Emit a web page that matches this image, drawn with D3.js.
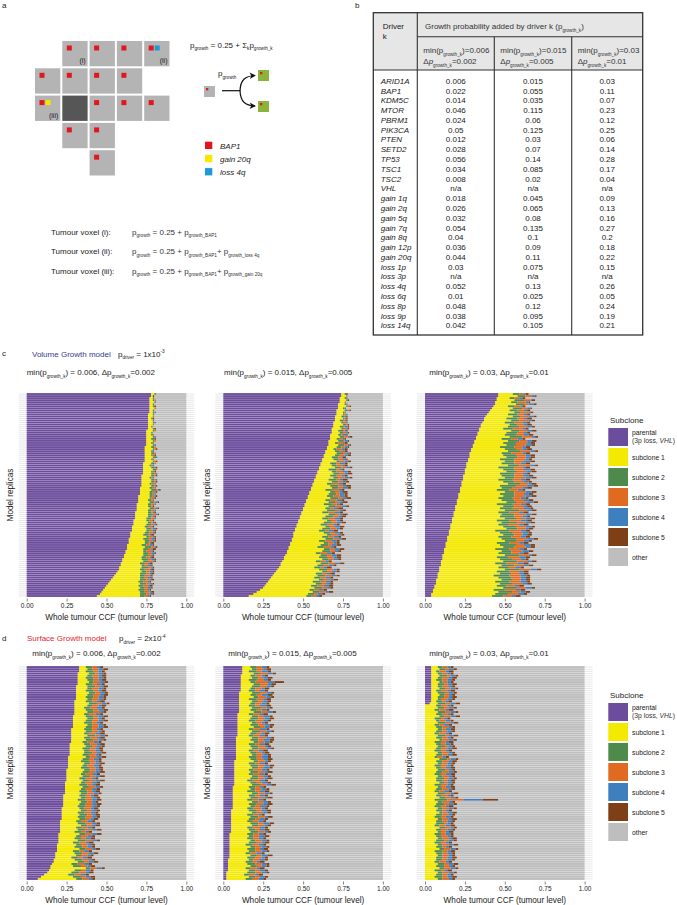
<!DOCTYPE html>
<html><head><meta charset="utf-8">
<script src="https://cdn.jsdelivr.net/npm/d3@7"></script>
<style>
body{margin:0;background:#fff}
svg{display:block}
text{font-family:"Liberation Sans",Arial,Helvetica,sans-serif;fill:#1a1a1a}
</style>
</head><body>
<svg id="fig" width="677" height="905"></svg>
<script>
// ---------------- DATA ----------------
const drivers = ["ARID1A","BAP1","KDM5C","MTOR","PBRM1","PIK3CA","PTEN","SETD2","TP53","TSC1","TSC2","VHL","gain 1q","gain 2q","gain 5q","gain 7q","gain 8q","gain 12p","gain 20q","loss 1p","loss 3p","loss 4q","loss 6q","loss 8p","loss 9p","loss 14q"];
const pMin006 = ["0.006","0.022","0.014","0.046","0.024","0.05","0.012","0.028","0.056","0.034","0.008","n/a","0.018","0.026","0.032","0.054","0.04","0.036","0.044","0.03","n/a","0.052","0.01","0.048","0.038","0.042"];
const pMin015 = ["0.015","0.055","0.035","0.115","0.06","0.125","0.03","0.07","0.14","0.085","0.02","n/a","0.045","0.065","0.08","0.135","0.1","0.09","0.11","0.075","n/a","0.13","0.025","0.12","0.095","0.105"];
const pMin03 = ["0.03","0.11","0.07","0.23","0.12","0.25","0.06","0.14","0.28","0.17","0.04","n/a","0.09","0.13","0.16","0.27","0.2","0.18","0.22","0.15","n/a","0.26","0.05","0.24","0.19","0.21"];

const subcloneKeys = ["par","s1","s2","s3","s4","s5","oth"];
const subcloneLabels = ["parental","subclone 1","subclone 2","subclone 3","subclone 4","subclone 5","other"];
const subcloneColors = ["#6c4c9c","#f4e900","#4e8a4c","#e06a20","#3e7fbd","#7f3f16","#bebebe"];
const ccfTicks = [0,0.25,0.5,0.75,1];

// Volume growth, min 0.006 (values in % CCF, replicas top->bottom)
const c1Par = [78,78,77,77,77,77,77,77,77,77,76,76,76,76,76,76,76,76,75,75,75,75,75,75,75,75,74,74,74,74,74,74,74,74,73,73,73,73,73,73,72,72,72,72,72,72,71,71,71,71,70,70,70,70,69,69,69,69,68,68,68,68,67,67,67,66,66,66,65,65,65,64,64,64,63,63,63,62,62,61,61,60,60,59,59,58,58,57,56,55,54,53,52,51,50,49,48,47,46,44];
const c1S1 = [2,1,2,2,3,2,2,3,2,2,3,3,2,3,3,3,2,3,4,3,3,4,3,4,3,4,4,5,4,4,4,5,4,5,5,4,5,6,5,5,6,5,6,6,5,6,6,7,6,6,7,7,6,7,7,7,8,7,8,8,8,7,8,9,8,8,9,9,9,8,10,9,10,10,9,11,10,11,11,12,11,12,13,12,13,14,13,15,15,16,17,18,18,20,20,22,22,24,25,27];
const c1S2 = [1,0,1,1,0,1,1,0,1,1,1,0,1,1,1,0,1,1,1,1,1,1,2,1,1,1,2,1,1,2,1,2,1,1,2,1,2,2,1,2,2,1,2,2,1,2,2,3,2,2,2,1,2,3,2,2,3,2,2,3,2,3,2,2,3,2,3,2,3,3,2,3,3,2,3,4,3,2,3,3,3,4,3,3,2,4,3,3,4,3,3,4,3,4,3,3,4,3,4,3];
const c1S3 = [0,0,0,1,0,0,0,1,0,0,0,1,0,0,0,1,0,0,1,0,1,0,0,1,1,0,1,1,0,1,1,0,1,1,1,1,0,1,1,1,1,1,1,1,2,1,1,1,2,1,1,2,1,1,2,1,1,2,1,2,1,2,2,1,2,2,1,2,2,1,2,2,2,1,2,2,2,3,2,2,2,2,3,2,2,2,3,2,2,3,2,2,3,2,3,2,2,3,2,2];
const c1S4 = [0,0,0,0,1,0,0,0,0,1,0,0,0,0,1,0,0,0,0,0,0,1,0,0,0,1,0,0,1,0,0,1,0,0,0,1,1,0,0,1,0,1,1,0,1,0,1,1,0,1,1,0,1,1,1,0,1,1,1,1,1,1,0,1,1,1,2,1,1,1,1,2,1,1,2,1,1,1,2,1,1,2,1,1,2,1,1,2,1,1,2,1,1,2,1,2,1,1,2,1];
const c1S5 = [0,1,0,0,0,0,1,0,0,0,0,0,1,0,0,0,0,1,0,0,0,0,1,0,0,0,0,1,0,0,1,0,0,1,0,0,1,0,1,0,1,0,0,1,0,1,0,1,1,0,1,1,0,1,0,1,1,0,1,1,1,0,1,1,1,1,1,1,1,2,1,1,1,2,1,1,2,1,1,1,2,1,1,2,1,1,2,1,2,1,1,2,1,1,2,1,1,2,1,1];

// Volume growth, min 0.015
const c2Par = [74,74,73,73,73,72,72,72,71,71,71,70,70,70,69,69,69,68,68,68,67,67,67,66,66,66,65,65,64,64,63,63,62,62,61,61,60,60,59,59,58,58,57,57,56,56,55,55,54,54,53,53,52,52,51,51,50,50,49,49,48,48,47,47,46,46,45,45,44,44,44,43,43,42,42,41,41,40,40,39,38,38,37,36,36,35,34,33,32,31,30,29,28,27,26,25,23,21,19,16];
const c2S1 = [2,3,3,4,3,4,5,3,5,4,4,4,5,3,5,6,4,6,4,5,5,6,4,6,4,6,6,4,6,7,7,5,7,9,6,7,10,6,9,10,9,11,9,11,9,11,13,9,13,12,12,14,12,14,12,15,14,15,13,17,16,14,18,16,15,18,17,15,19,21,18,21,17,21,19,18,22,22,18,22,22,24,21,25,23,22,26,29,26,28,27,31,28,31,29,32,31,35,34,36];
const c2S2 = [1,0,1,1,0,1,1,1,2,1,1,2,1,2,1,2,2,1,3,2,2,3,2,3,2,4,3,2,3,4,3,4,3,2,4,3,4,5,3,4,4,3,5,4,3,5,4,4,3,5,4,5,3,4,5,4,3,5,4,4,5,4,3,5,4,3,5,4,4,3,4,5,4,3,5,4,4,5,3,4,5,4,3,5,4,4,5,3,4,5,4,3,5,4,4,5,3,4,4,3];
const c2S3 = [0,1,0,0,1,0,1,0,1,1,1,0,1,1,2,1,1,2,1,2,1,2,2,1,3,2,2,3,2,2,3,2,3,3,2,4,3,2,4,3,3,4,2,3,4,3,3,4,3,2,4,3,4,3,3,4,2,3,4,3,3,4,3,3,4,3,4,2,3,4,3,3,4,3,2,4,3,3,4,3,4,3,3,4,3,2,4,3,3,4,3,4,3,3,4,3,3,4,2,3];
const c2S4 = [0,0,1,0,0,1,0,1,0,0,1,1,0,1,1,0,2,1,1,1,2,1,1,2,1,1,2,2,1,2,2,1,2,2,3,1,2,2,3,2,2,3,2,2,3,2,3,2,2,3,3,2,3,2,2,3,3,2,3,2,2,3,2,3,2,3,2,3,3,2,3,2,3,2,3,2,3,2,3,3,2,3,2,3,3,2,2,3,2,3,3,2,3,2,3,2,3,2,3,2];
const c2S5 = [1,0,0,1,0,0,1,0,1,0,0,1,1,1,0,1,1,1,1,1,1,2,1,1,2,1,1,2,2,1,2,2,1,2,2,2,2,1,2,3,2,2,3,2,2,3,2,2,3,2,2,3,2,3,2,2,3,2,2,3,3,2,2,3,2,3,2,3,2,2,2,3,2,2,3,2,3,2,2,3,3,2,2,3,2,3,2,2,3,2,2,3,2,2,3,2,2,3,2,2];

// Volume growth, min 0.03
const c3Par = [46,46,45,45,44,44,43,42,41,40,39,38,37,37,36,35,35,34,34,33,33,32,32,31,31,30,30,29,29,28,28,28,27,27,26,26,26,25,25,25,24,24,24,23,23,23,22,22,22,21,21,21,20,20,20,19,19,19,18,18,18,17,17,17,16,16,16,15,15,15,14,14,14,13,13,13,12,12,12,11,11,11,10,10,10,9,9,9,8,8,8,7,7,7,6,6,5,5,4,4];
const c3S1 = [9,12,8,11,10,13,9,13,12,16,13,17,14,17,14,18,17,15,20,18,17,21,16,21,18,21,17,21,23,20,21,23,20,23,22,26,20,24,26,22,24,26,22,26,29,24,26,23,28,26,28,25,28,31,25,30,28,31,28,30,29,33,28,31,30,33,35,29,32,34,32,34,36,32,34,36,32,36,34,39,34,36,39,34,38,37,41,36,39,35,38,41,37,40,39,43,38,41,40,38];
const c3S2 = [4,5,3,6,4,5,4,6,5,4,6,5,7,5,6,5,7,6,5,7,7,8,6,7,8,6,9,7,8,6,8,7,9,6,8,7,10,7,6,9,8,6,9,7,8,10,7,8,6,9,7,9,8,6,10,7,8,9,7,8,9,7,8,10,6,8,7,9,8,7,8,9,7,8,10,7,9,6,8,9,7,8,9,7,8,6,9,8,7,10,8,7,9,8,6,8,7,9,8,7];
const c3S3 = [3,4,3,4,5,3,4,3,4,5,4,5,4,6,5,4,5,6,5,4,5,6,4,5,7,6,5,4,6,7,6,5,7,6,4,7,5,6,7,5,6,7,5,6,5,7,6,5,7,6,7,5,6,7,5,6,7,5,6,7,5,6,7,5,7,6,5,7,6,5,6,7,5,6,5,7,6,7,5,6,7,5,6,7,6,5,7,6,5,7,6,5,7,6,5,6,7,5,6,5];
const c3S4 = [1,2,2,1,2,3,1,2,2,1,2,3,2,2,3,2,3,2,3,2,3,2,3,3,2,4,2,3,3,2,3,3,2,4,3,3,2,4,3,3,3,4,3,3,2,4,3,3,4,3,4,3,3,4,3,2,4,3,3,4,3,3,4,3,3,4,2,3,4,3,3,4,3,3,4,3,3,4,3,2,4,3,3,4,3,3,4,3,3,4,3,3,4,3,3,4,3,3,4,3];
const c3S5 = [2,1,2,2,1,2,2,1,2,2,2,2,3,2,2,3,2,2,3,2,3,2,2,3,3,2,3,3,2,3,3,3,2,3,3,2,3,3,3,2,3,3,3,2,3,3,3,2,3,3,3,2,3,3,3,3,2,3,3,3,2,3,3,3,3,2,3,3,2,3,3,3,2,3,3,3,2,3,3,3,3,2,3,3,3,2,3,3,3,2,3,3,2,3,3,2,3,3,2,3];

// Surface growth, min 0.006
const d1Par = [33,33,33,32,32,32,32,32,32,31,31,31,31,31,31,31,30,30,30,30,30,30,30,29,29,29,29,29,29,28,28,28,28,28,28,28,27,27,27,27,27,27,26,26,26,26,26,26,25,25,25,25,25,25,24,24,24,24,24,24,23,23,23,23,23,23,22,22,22,22,22,22,21,21,21,21,21,21,20,20,20,20,20,19,19,19,19,18,18,18,17,17,16,15,15,14,13,11,9,7];
const d1S1 = [4,5,4,7,6,5,6,7,5,7,7,6,8,7,6,7,7,9,8,6,7,8,6,8,9,8,7,9,8,8,9,8,10,8,9,7,9,10,8,9,9,8,11,9,8,10,9,8,11,10,9,10,8,10,10,9,11,10,9,10,10,11,9,11,10,9,11,12,10,11,10,11,10,11,13,10,11,9,13,11,10,12,9,12,11,14,10,12,13,10,13,15,12,14,22,16,15,15,20,24];
const d1S2 = [4,3,5,4,3,5,4,3,4,5,3,5,4,4,5,3,4,5,3,4,5,4,3,5,4,4,5,3,4,5,4,3,5,4,5,3,4,4,5,3,5,4,3,4,5,4,3,5,4,4,3,5,4,4,3,5,4,3,5,4,4,3,5,4,4,5,3,4,4,5,5,4,3,5,4,3,5,4,4,3,4,5,4,3,5,4,4,5,3,4,5,4,4,5,3,4,5,4,5,4];
const d1S3 = [3,4,3,2,4,3,3,4,3,3,4,3,3,4,3,4,3,3,4,4,3,4,4,3,3,4,3,4,4,3,4,4,3,4,3,4,4,3,3,4,3,4,4,3,4,3,4,4,3,4,4,3,4,4,4,3,4,4,3,4,3,4,4,3,4,4,4,3,4,3,4,3,4,4,3,4,4,3,4,4,3,4,4,4,3,4,3,4,4,3,4,3,4,4,4,3,4,4,3,4];
const d1S4 = [2,3,2,3,2,3,2,3,3,2,3,2,3,2,3,3,2,3,2,3,3,2,3,3,2,3,2,3,3,2,2,3,3,2,3,3,2,3,2,3,3,2,3,3,2,3,3,2,3,3,3,3,2,3,3,2,3,3,2,3,2,3,3,2,3,3,2,3,3,2,3,2,3,3,2,3,3,2,3,3,3,3,2,3,3,2,3,3,2,3,2,3,3,2,3,3,2,3,3,2];
const d1S5 = [2,3,2,2,3,2,3,2,2,3,2,3,2,3,2,2,3,2,3,2,3,2,2,3,2,3,2,2,3,2,2,3,2,3,2,2,3,2,3,2,3,2,3,2,2,3,2,3,2,3,2,3,2,3,2,3,2,2,3,2,3,2,3,2,3,2,3,2,2,3,2,3,2,2,3,2,3,2,3,2,3,2,3,2,2,3,2,3,2,3,2,3,2,3,2,2,3,2,3,2];

// Surface growth, min 0.015
const d2Par = [12,12,12,12,11,11,11,11,11,11,11,11,10,10,10,10,10,10,10,10,10,10,9,9,9,9,9,9,9,9,9,9,9,8,8,8,8,8,8,8,8,8,8,8,7,7,7,7,7,7,7,7,7,7,7,7,6,6,6,6,6,6,6,6,6,6,6,5,5,5,5,5,5,5,5,5,5,5,4,4,4,4,4,4,4,4,4,4,4,4,3,3,3,3,3,3,2,2,2,2];
const d2S1 = [5,6,4,7,6,7,5,6,8,7,6,5,8,7,9,6,8,7,6,8,7,9,7,9,8,7,9,8,10,7,9,8,7,10,9,11,8,9,10,8,9,10,8,9,12,9,10,11,9,10,9,11,10,8,10,11,10,11,9,12,10,11,9,12,10,11,9,11,13,10,12,11,10,12,13,10,11,12,11,12,11,13,12,10,13,11,12,10,13,11,13,11,12,14,11,13,13,11,14,12];
const d2S2 = [4,3,5,4,3,4,5,3,4,5,3,4,5,4,3,5,4,3,4,5,4,5,3,4,5,4,3,5,4,3,5,4,3,4,5,3,4,5,4,3,4,3,5,4,3,4,5,4,3,5,3,4,5,3,4,5,4,3,5,4,4,5,3,4,5,3,4,5,3,4,5,4,3,5,4,3,4,5,4,3,4,3,5,4,3,5,4,3,4,5,3,4,5,4,3,4,5,3,4,4];
const d2S3 = [3,4,3,5,4,3,4,8,5,4,4,3,4,3,5,4,3,4,3,4,3,4,4,3,4,5,3,4,3,4,4,3,4,5,3,4,3,4,5,3,3,4,3,4,4,3,4,3,5,4,4,3,4,5,3,4,3,4,3,4,3,4,4,3,4,3,5,3,4,3,4,3,4,3,4,5,3,4,3,4,3,4,3,4,4,3,4,4,3,4,4,3,4,3,4,3,4,4,3,4];
const d2S4 = [3,2,4,3,2,3,3,4,2,3,2,3,3,4,3,2,3,3,4,2,3,3,2,4,3,3,2,3,3,4,3,2,3,3,4,3,3,2,3,3,2,3,4,3,2,3,3,4,3,2,3,3,2,3,4,3,2,3,3,3,3,2,3,3,3,4,2,3,3,2,2,3,3,4,2,3,3,2,3,3,3,3,2,3,3,2,3,3,4,2,3,2,3,3,2,3,3,2,3,3];
const d2S5 = [2,3,2,2,2,3,2,6,3,2,3,2,2,3,2,3,2,2,3,2,2,2,3,2,3,2,2,3,2,2,2,3,2,2,3,2,3,2,2,3,3,2,2,3,2,2,3,2,2,3,2,2,3,2,2,3,2,2,3,2,2,3,2,2,3,2,2,3,2,2,3,2,2,3,2,2,3,2,2,3,2,2,3,2,2,3,2,2,3,2,2,3,2,2,3,2,2,3,2,2];

// Surface growth, min 0.03
const d3Par = [4,4,4,4,4,4,4,4,4,4,4,4,4,4,4,4,4,3,0,0,0,0,0,0,0,0,0,0,0,0,0,0,0,0,0,0,0,0,0,0,0,0,0,0,0,0,0,0,0,0,0,0,0,0,0,0,0,0,0,0,0,0,0,0,0,0,0,0,0,0,0,0,0,0,0,0,0,0,0,0,0,0,0,0,0,0,0,0,0,0,0,0,0,0,0,0,0,0,0,0];
const d3S1 = [4,5,3,4,5,4,3,5,4,4,5,3,4,5,4,4,3,5,7,8,6,8,7,9,6,7,8,6,7,8,7,6,8,7,9,6,7,8,7,6,8,7,6,9,7,8,6,7,8,7,6,8,7,7,9,6,8,7,6,8,7,9,6,8,7,6,8,7,9,7,6,8,7,7,6,9,7,8,6,7,8,7,6,8,7,9,6,7,8,7,7,6,8,7,9,6,8,7,6,8];
const d3S2 = [3,4,2,3,5,3,4,2,4,3,4,3,5,3,4,2,4,5,3,4,3,5,4,3,4,2,5,3,4,3,4,3,5,4,2,4,3,5,3,4,3,4,2,5,4,3,4,3,5,4,4,3,5,4,3,4,2,4,3,5,3,4,8,3,5,4,3,4,2,4,4,3,4,5,3,4,3,2,4,3,3,5,4,3,4,3,5,4,3,4,4,3,4,5,3,4,3,4,5,3];
const d3S3 = [3,2,4,3,2,4,3,3,2,4,3,4,2,3,3,4,2,3,4,3,4,3,3,4,2,4,3,3,4,2,3,4,2,3,4,3,3,2,4,3,4,3,3,2,4,3,4,3,2,4,3,4,3,3,2,4,3,4,3,3,4,3,10,4,3,3,4,2,3,4,3,4,3,2,4,3,4,3,3,4,4,3,3,4,2,4,3,3,4,3,3,4,3,3,4,2,4,3,3,4];
const d3S4 = [2,3,2,2,3,2,3,2,3,2,3,2,3,2,2,3,2,3,2,3,2,3,2,3,2,3,2,3,2,3,3,2,3,2,3,2,3,2,3,2,2,3,2,3,2,3,2,3,2,3,3,2,3,2,3,2,3,2,3,2,2,3,12,2,3,2,3,2,3,2,3,2,3,2,3,2,3,2,3,2,2,3,2,3,2,3,2,3,2,3,3,2,3,2,3,2,3,2,3,2];
const d3S5 = [2,2,3,2,2,3,2,2,3,2,2,3,2,2,3,2,2,3,2,2,3,2,2,3,2,2,3,2,2,3,2,2,3,2,2,3,2,2,3,2,2,3,2,2,3,2,2,3,2,2,3,2,2,3,2,2,3,2,2,3,2,2,10,2,2,3,2,2,3,2,2,3,2,2,3,2,2,3,2,2,3,2,2,3,2,2,3,2,2,3,2,2,3,2,2,3,2,2,3,2];

// ---------------- DRAWING ----------------
const svg = d3.select("#fig");
const FONT = '"Liberation Sans",Arial,Helvetica,sans-serif';

function rich(g, x, y, parts, fs, opts = {}) {
  const t = g.append("text").attr("x", x).attr("y", y).attr("font-size", fs)
    .attr("xml:space", "preserve");
  if (opts.anchor) t.attr("text-anchor", opts.anchor);
  if (opts.fill) t.attr("fill", opts.fill);
  if (opts.rotate) t.attr("transform", opts.rotate);
  let cur = 0;
  parts.forEach(p => {
    const [txt, kind] = typeof p === "string" ? [p, ""] : p;
    const ts = t.append("tspan").text(txt);
    let target = 0, size = fs;
    if (kind.includes("s")) { target = fs * 0.32; size = fs * 0.58; }
    if (kind.includes("u")) { target = -fs * 0.42; size = fs * 0.58; }
    if (kind.includes("i")) ts.attr("font-style", "italic");
    if (opts.fill) ts.attr("fill", opts.fill);
    ts.attr("font-size", size);
    if (target !== cur) { ts.attr("dy", target - cur); cur = target; }
  });
  return t;
}

// panel letters
[["a",2,8],["b",355,8],["c",2,356],["d",2,640.5]].forEach(([l,x,y]) =>
  svg.append("text").attr("x",x).attr("y",y).attr("font-size",8).text(l));

// ---------- Panel a ----------
const ga = svg.append("g");
const voxels = [
  [0,1,["r"],"(i)"],[0,2,["r"]],[0,3,["r"]],[0,4,["r","b"],"(ii)"],
  [1,0,["r"]],[1,1,["r"]],[1,2,["r"]],[1,3,["r"]],
  [2,0,["r","y"],"(iii)"],[2,1,[],null,true],[2,2,["r"]],[2,3,["r"]],[2,4,["r"]],
  [3,1,["r"]],[3,2,["r"]],
  [4,2,["r"]]
];
const mutColor = {r:"#e3161f", y:"#f7e600", b:"#1b9ad6"};
const pitch = 27.3, cell = 25.3, gx0 = 35, gy0 = 41;
voxels.forEach(([r,c,marks,label,dark]) => {
  const x = gx0 + c*pitch, y = gy0 + r*pitch;
  ga.append("rect").attr("x",x).attr("y",y).attr("width",cell).attr("height",cell)
    .attr("fill", dark ? "#565656" : "#b4b4b4");
  marks.forEach((m,i) => ga.append("rect").attr("x",x+4.5+i*6).attr("y",y+4.5)
    .attr("width",5).attr("height",5).attr("fill",mutColor[m]));
  if (label) ga.append("text").attr("x",x+cell-2).attr("y",y+cell-3)
    .attr("text-anchor","end").attr("font-size",7).attr("fill","#333").text(label);
});

rich(ga, 190, 47.5, ["p",["growth","s"]," = 0.25 + Σ",["k","s"],"p",["growth_k","s"]], 8);
// growth diagram
ga.append("defs").append("marker").attr("id","arr").attr("viewBox","0 0 8 8")
  .attr("refX",6).attr("refY",4).attr("markerWidth",6).attr("markerHeight",6)
  .attr("orient","auto").append("path").attr("d","M0,0.5 L7,4 L0,7.5 L2,4 z").attr("fill","#111");
ga.append("rect").attr("x",204).attr("y",86).attr("width",11).attr("height",11).attr("fill","#b4b4b4");
ga.append("rect").attr("x",206).attr("y",88).attr("width",2.3).attr("height",2.3).attr("fill","#e3161f");
ga.append("line").attr("x1",222).attr("x2",240.5).attr("y1",90.7).attr("y2",90.7).attr("stroke","#111").attr("stroke-width",1.2);
ga.append("path").attr("d","M240,90.7 C240.5,80 245,76 255,75.5").attr("fill","none").attr("stroke","#111").attr("stroke-width",1.2).attr("marker-end","url(#arr)");
ga.append("path").attr("d","M240,90.7 C240.5,101.5 245,105.5 255,106").attr("fill","none").attr("stroke","#111").attr("stroke-width",1.2).attr("marker-end","url(#arr)");
[70,101].forEach(y => {
  ga.append("rect").attr("x",258).attr("y",y).attr("width",11).attr("height",11).attr("fill","#8db43a");
  ga.append("rect").attr("x",260).attr("y",y+2).attr("width",2.3).attr("height",2.3).attr("fill","#e3161f");
});
rich(ga, 218, 76, ["p",["growth","s"]], 8);
// legend a
[["r","BAP1"],["y","gain 20q"],["b","loss 4q"]].forEach(([m,l],i) => {
  const y = 141.7 + i*13.2;
  ga.append("rect").attr("x",205).attr("y",y).attr("width",7.3).attr("height",7.3).attr("fill",mutColor[m]);
  ga.append("text").attr("x",220).attr("y",y+6.8).attr("font-size",8).attr("font-style","italic").attr("fill","#333").text(l);
});
// tumour voxel formulas
const voxF = [
  ["Tumour voxel (i):", ["p",["growth","s"]," = 0.25 + p",["growth_BAP1","s"]]],
  ["Tumour voxel (ii):", ["p",["growth","s"]," = 0.25 + p",["growth_BAP1","s"],"+ p",["growth_loss 4q","s"]]],
  ["Tumour voxel (iii):", ["p",["growth","s"]," = 0.25 + p",["growth_BAP1","s"],"+ p",["growth_gain 20q","s"]]]
];
voxF.forEach(([lab, parts], i) => {
  const y = 234.5 + i*19.5;
  ga.append("text").attr("x",51).attr("y",y).attr("font-size",8).attr("fill","#333").text(lab);
  rich(ga, 132, y, parts, 8, {fill:"#333"});
});

// ---------- Panel b (table) ----------
const gb = svg.append("g");
const tL = 373.3, tR = 642.7, tT = 12.7, tB = 335, hMid = 36.7, hBot = 70;
const colX = [417.3, 494.3, 571.7];
gb.append("rect").attr("x",tL).attr("y",tT).attr("width",tR-tL).attr("height",hBot-tT).attr("fill","#e6e6e6");
const st = {stroke:"#333","stroke-width":1.1};
function ln(x1,y1,x2,y2){ const l = gb.append("line").attr("x1",x1).attr("y1",y1).attr("x2",x2).attr("y2",y2); Object.entries(st).forEach(([k,v])=>l.attr(k,v)); }
gb.append("rect").attr("x",tL).attr("y",tT).attr("width",tR-tL).attr("height",tB-tT).attr("fill","none").attr("stroke","#333").attr("stroke-width",1.3);
ln(colX[0],tT,colX[0],tB); ln(colX[0],hMid,tR,hMid); ln(tL,hBot,tR,hBot);
ln(colX[1],hMid,colX[1],tB); ln(colX[2],hMid,colX[2],tB);
gb.append("text").attr("x",382.7).attr("y",29).attr("font-size",8).attr("fill","#333").text("Driver");
gb.append("text").attr("x",382.7).attr("y",38.5).attr("font-size",8).attr("fill","#333").text("k");
rich(gb, 425, 29, ["Growth probability added by driver k (p",["growth_k","s"],")"], 8, {fill:"#333"});
const heads = [["0.006","0.002"],["0.015","0.005"],["0.03","0.01"]];
heads.forEach(([a,b],j) => {
  const x = colX[j] + 6;
  rich(gb, x, 53, ["min(p",["growth_k","s"],")="+a], 8, {fill:"#333"});
  rich(gb, x, 64, ["Δ",["p","i"],["growth_k","s"],"="+b], 8, {fill:"#333"});
});
const tableCols = [pMin006, pMin015, pMin03];
const rowY = d3.scaleLinear().domain([0,25]).range([83.8, 328.3]);
drivers.forEach((d,i) => {
  gb.append("text").attr("x",380.7).attr("y",rowY(i)).attr("font-size",8).attr("font-style","italic").attr("fill","#333").text(d);
  tableCols.forEach((col,j) => {
    const cx = (colX[j] + (j<2 ? colX[j+1] : tR))/2;
    gb.append("text").attr("x",cx).attr("y",rowY(i)).attr("text-anchor","middle").attr("font-size",8).attr("fill","#333").text(col[i]);
  });
});

// ---------- Panels c & d ----------
function drawPanel(cfg) {
  const g = svg.append("g");
  const n = cfg.par.length;
  const rows = d3.range(n).map(i => {
    const o = {par:cfg.par[i], s1:cfg.s1[i]||0, s2:cfg.s2[i]||0, s3:cfg.s3[i]||0, s4:cfg.s4[i]||0, s5:cfg.s5[i]||0};
    const sum = o.par+o.s1+o.s2+o.s3+o.s4+o.s5;
    o.oth = Math.max(0, 100 - sum);
    subcloneKeys.forEach(k => o[k] = o[k]/100);
    o.idx = i;
    return o;
  });
  const x = d3.scaleLinear().domain([0,1]).range([cfg.x0, cfg.x0 + 159.6]);
  const y = d3.scaleBand().domain(d3.range(n)).range([cfg.top, cfg.bottom]).paddingInner(0.1).paddingOuter(0.05);
  // grid lines
  g.append("g").selectAll("line").data(d3.range(n)).join("line")
    .attr("x1", x(-0.05)).attr("x2", x(1.05))
    .attr("y1", d => y(d) + y.bandwidth()/2).attr("y2", d => y(d) + y.bandwidth()/2)
    .attr("stroke", "#e4e4e4").attr("stroke-width", 0.9);
  const series = d3.stack().keys(subcloneKeys)(rows);
  const color = d3.scaleOrdinal().domain(subcloneKeys).range(subcloneColors);
  g.append("g").selectAll("g").data(series).join("g").attr("fill", s => color(s.key))
    .selectAll("rect").data(s => s).join("rect")
    .attr("x", d => x(d[0])).attr("width", d => Math.max(0, x(d[1]) - x(d[0])))
    .attr("y", d => y(d.data.idx)).attr("height", y.bandwidth());
  // axis
  const ax = g.append("g").attr("transform", `translate(0,${cfg.bottom + 1.5})`)
    .call(d3.axisBottom(x).tickValues(ccfTicks).tickFormat(d3.format(".2f")).tickSize(3).tickPadding(2));
  ax.attr("font-family", FONT).attr("font-size", 6.5);
  ax.select(".domain").remove();
  ax.selectAll("line").attr("stroke", "#333").attr("stroke-width", 0.6);
  ax.selectAll("text").attr("fill", "#4d4d4d");
  g.append("text").attr("x", (x(0)+x(1))/2).attr("y", cfg.bottom + 23).attr("text-anchor","middle")
    .attr("font-size", 8.2).text("Whole tumour CCF (tumour level)");
  const cy = (cfg.top + cfg.bottom)/2;
  g.append("text").attr("transform", `translate(${x(0) - 13.5},${cy}) rotate(-90)`)
    .attr("text-anchor","middle").attr("font-size", 8.2).text("Model replicas");
  rich(g, cfg.sx, cfg.sy, ["min(p",["growth_k","s"],") = "+cfg.minv+", Δp",["growth_k","s"],"="+cfg.dv], 8);
}

function drawLegend(top) {
  const g = svg.append("g");
  g.append("text").attr("x",610).attr("y",top).attr("font-size",8).attr("fill","#333").text("Subclone");
  subcloneKeys.forEach((k,i) => {
    const y = top + 5 + i*20;
    g.append("rect").attr("x",608.3).attr("y",y).attr("width",19.7).attr("height",18).attr("fill",subcloneColors[i]);
    if (i === 0) {
      g.append("text").attr("x",632).attr("y",y+7.3).attr("font-size",6.8).attr("fill","#333").text("parental");
      rich(g, 632, y+15.3, ["(3p loss, ",["VHL","i"],")"], 6.8, {fill:"#333"});
    } else {
      g.append("text").attr("x",632).attr("y",y+11.5).attr("font-size",6.8).attr("fill","#333").text(subcloneLabels[i]);
    }
  });
}

// headers
rich(svg, 32, 356.5, ["Volume Growth model"], 8, {fill:"#353b8f"});
rich(svg, 118, 356.5, ["p",["driver","s"]," = 1x10",["-3","u"]], 8);
rich(svg, 27, 641, ["Surface Growth model"], 8, {fill:"#e4252f"});
rich(svg, 119, 641, ["p",["driver","s"]," = 2x10",["-4","u"]], 8);

const cTop = 393, cBot = 597, dTop = 666, dBot = 880;
drawPanel({x0:26.7, top:cTop, bottom:cBot, par:c1Par, s1:c1S1, s2:c1S2, s3:c1S3, s4:c1S4, s5:c1S5, sx:26.7, sy:375, minv:"0.006", dv:"0.002"});
drawPanel({x0:223.3, top:cTop, bottom:cBot, par:c2Par, s1:c2S1, s2:c2S2, s3:c2S3, s4:c2S4, s5:c2S5, sx:224, sy:375, minv:"0.015", dv:"0.005"});
drawPanel({x0:425, top:cTop, bottom:cBot, par:c3Par, s1:c3S1, s2:c3S2, s3:c3S3, s4:c3S4, s5:c3S5, sx:429.3, sy:375, minv:"0.03", dv:"0.01"});
drawPanel({x0:26.7, top:dTop, bottom:dBot, par:d1Par, s1:d1S1, s2:d1S2, s3:d1S3, s4:d1S4, s5:d1S5, sx:32.3, sy:656, minv:"0.006", dv:"0.002"});
drawPanel({x0:223.3, top:dTop, bottom:dBot, par:d2Par, s1:d2S1, s2:d2S2, s3:d2S3, s4:d2S4, s5:d2S5, sx:228.3, sy:656, minv:"0.015", dv:"0.005"});
drawPanel({x0:425, top:dTop, bottom:dBot, par:d3Par, s1:d3S1, s2:d3S2, s3:d3S3, s4:d3S4, s5:d3S5, sx:429.3, sy:656, minv:"0.03", dv:"0.01"});
drawLegend(423);
drawLegend(698);
</script>
</body></html>
